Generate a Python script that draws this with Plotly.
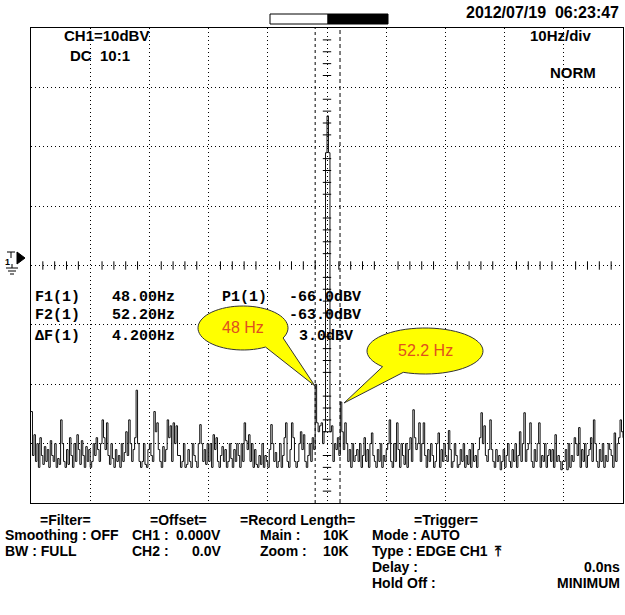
import numpy as np
import plotly.graph_objects as go

# ---------------- data ----------------
freq_step_hz = 0.25
# spectrum level in dBV, one row per 5 Hz (20 bins of 0.25 Hz)
row_00_05 = [-70.6, -78, -74.5, -79, -76, -80, -75, -78, -79.5, -76.5, -79, -77, -80, -75.5, -78, -79, -76, -80, -78.5, -79.5]
row_05_10 = [-72, -76, -79, -80, -77, -79.5, -75, -78, -80, -76, -79, -74.5, -77, -79.5, -75.5, -78, -80, -76.5, -79, -77]
row_10_15 = [-80, -79, -76, -78, -75, -77, -79, -76, -72, -75, -77, -72.5, -78, -79.5, -76, -78.5, -80, -77, -79, -78]
row_15_20 = [-80, -76, -79, -77.5, -74, -78, -72, -76, -79, -77, -75, -67, -76, -79, -80, -79, -76, -79.5, -80, -77]
row_20_25 = [-76, -78, -79, -70.6, -74, -72.5, -77, -79, -80, -76.5, -79, -77, -72, -75, -73, -79, -72.5, -76, -73, -78]
row_25_30 = [-78, -80, -79, -76, -80, -79.5, -77, -79, -80, -76, -78, -79, -80, -76, -72.8, -76, -79, -77, -79.5, -76]
row_30_35 = [-79, -76, -80, -74.5, -77, -75, -79, -80, -78, -76.5, -79, -77, -80, -79, -76, -78.5, -80, -77, -79, -76]
row_35_40 = [-78, -80, -76, -79, -72.5, -75.5, -77, -74.5, -79, -76, -80, -77, -79.5, -80, -78, -79.5, -76, -80, -78, -79]
row_40_45 = [-80, -77, -72.8, -76, -79, -77.5, -80, -79, -76, -80, -78, -75, -72.5, -79, -80, -77, -72.5, -75, -79, -80]
row_45_50 = [-79, -76, -74, -77, -74.5, -79, -80, -78, -76, -79, -75, -77, -66, -72.5, -74, -73, -72.5, -76, -74, -27]
row_50_55 = [-20.8, -27, -74, -73, -79, -76, -77, -75, -78, -69, -74, -77, -72.5, -76, -79, -77, -80, -76, -79, -78]
row_55_60 = [-77, -79, -76, -80, -78, -75, -79, -77, -80, -76, -74.2, -78, -79, -80, -77, -79, -76, -80, -78, -79]
row_60_65 = [-77, -76, -72, -79, -80, -76, -79, -72.5, -77, -80, -76, -78, -79.5, -76, -80, -77, -75, -79, -70.3, -75]
row_65_70 = [-77, -76, -72.5, -79, -76, -72.5, -78, -80, -77, -79, -76, -78, -80, -79, -76, -74.2, -80, -77, -79, -76]
row_70_75 = [-78, -79, -73.8, -77, -80, -79, -76, -78, -80, -79.5, -77, -79, -76, -80, -78, -79.5, -77, -80, -76, -79]
row_75_80 = [-78, -80, -77, -75, -70.8, -76, -73, -78, -79, -77, -72, -77, -79, -80, -77, -79, -78, -80.4, -79, -77]
row_80_85 = [-80, -78, -76, -79, -80, -77, -79, -76, -80, -78, -74, -79, -76, -70.8, -79, -77, -76, -72.5, -79, -80]
row_85_90 = [-77, -79, -76, -72.5, -80, -78, -79, -76, -80, -78, -77, -79, -77, -80, -74.5, -79, -78, -79, -80.4, -79]
row_90_95 = [-79, -77, -80.4, -76, -80, -78, -79, -75, -76, -78, -73.3, -80, -77, -79, -76, -80, -78, -77, -75, -79]
row_95_100 = [-72, -76, -79, -80, -77, -79, -76, -80, -78, -79, -76, -77, -78, -80, -74.2, -79, -76, -75, -72, -74]
last_bin = [-75]

spectrum_dbv = (row_00_05 + row_05_10 + row_10_15 + row_15_20 + row_20_25 + row_25_30
                + row_30_35 + row_35_40 + row_40_45 + row_45_50 + row_50_55 + row_55_60
                + row_60_65 + row_65_70 + row_70_75 + row_75_80 + row_80_85 + row_85_90
                + row_90_95 + row_95_100 + last_bin)
freqs_hz = [i * freq_step_hz for i in range(len(spectrum_dbv))]

cursor_f1_hz = 48.0
cursor_f2_hz = 52.2

readout_rows = [
    ("F1(1)", "48.00Hz", "P1(1)", "-66.0dBV"),
    ("F2(1)", "52.20Hz", "", "-63.0dBV"),
    ("ΔF(1)", "4.200Hz", "", "3.0dBV"),
]

# ---------------- geometry helpers ----------------
W, H = 625, 615
L, R, T, B = 31, 623, 28, 503
X0, X1 = 0.0, 100.0
Y0, Y1 = -86.0, -6.0


def xp(px):
    return (px - L) / (R - L)


def yp(py):
    return (B - py) / (B - T)


def x_data(px):
    return X0 + (px - L) / (R - L) * (X1 - X0)


def y_data(py):
    return Y0 + (B - py) / (B - T) * (Y1 - Y0)


fig = go.Figure()

fig.add_trace(go.Scatter(
    x=freqs_hz, y=spectrum_dbv, mode="lines",
    line=dict(color="#111111", width=1, shape="hv"),
    hoverinfo="skip", showlegend=False,
))

# centre graticule minor ticks
tick_x = [X0 + 2 * k for k in range(1, 50) if (2 * k) % 10 != 0]
tick_y = [Y0 + 2 * k for k in range(1, 40) if (2 * k) % 10 != 0]
fig.add_trace(go.Scatter(
    x=tick_x, y=[-46] * len(tick_x), mode="markers",
    marker=dict(symbol="line-ns", size=6, line=dict(color="black", width=1)),
    hoverinfo="skip", showlegend=False,
))
fig.add_trace(go.Scatter(
    x=[50] * len(tick_y), y=tick_y, mode="markers",
    marker=dict(symbol="line-ew", size=6, line=dict(color="black", width=1)),
    hoverinfo="skip", showlegend=False,
))

shapes = []
# cursors
shapes.append(dict(type="line", xref="x", yref="paper", x0=cursor_f1_hz, x1=cursor_f1_hz,
                   y0=0, y1=1, line=dict(color="black", width=1, dash="dot")))
shapes.append(dict(type="line", xref="x", yref="paper", x0=cursor_f2_hz, x1=cursor_f2_hz,
                   y0=0, y1=1, line=dict(color="black", width=1, dash="4px,3px")))

# top memory bar
shapes.append(dict(type="rect", xref="paper", yref="paper", x0=xp(270), x1=xp(328),
                   y0=yp(24), y1=yp(14), fillcolor="white", line=dict(color="black", width=1)))
shapes.append(dict(type="rect", xref="paper", yref="paper", x0=xp(328), x1=xp(388),
                   y0=yp(24), y1=yp(14), fillcolor="black", line=dict(color="black", width=1)))


def callout(cx, cy, rx, ry, a_start, a_end, tip):
    pts = []
    for a in np.linspace(a_start, a_end, 60):
        t = np.radians(a)
        pts.append((cx + rx * np.cos(t), cy + ry * np.sin(t)))
    pts.append(tip)
    path = "M " + " L ".join(f"{x_data(px):.4f},{y_data(py):.4f}" for px, py in pts) + " Z"
    return dict(type="path", xref="x", yref="y", path=path, fillcolor="#FFFF00",
                line=dict(color="#333333", width=1), layer="above")


shapes.append(callout(243, 328, 45, 22, 60, 387, (315, 386)))
shapes.append(callout(425, 351, 58, 23, 137, 472, (344, 403)))

# channel / ground marker on the left
shapes.append(dict(type="path", xref="paper", yref="paper",
                   path=f"M {xp(17)},{yp(252)} L {xp(25)},{yp(258)} L {xp(17)},{yp(264)} Z",
                   fillcolor="black", line=dict(color="black", width=1)))
shapes.append(dict(type="line", xref="paper", yref="paper", x0=xp(7), x1=xp(15),
                   y0=yp(252), y1=yp(252), line=dict(color="black", width=1)))
shapes.append(dict(type="line", xref="paper", yref="paper", x0=xp(11), x1=xp(11),
                   y0=yp(252), y1=yp(258), line=dict(color="black", width=1)))
for (a, b, yy) in [(6, 18, 268), (8, 16, 271), (10, 14, 274)]:
    shapes.append(dict(type="line", xref="paper", yref="paper", x0=xp(a), x1=xp(b),
                       y0=yp(yy), y1=yp(yy), line=dict(color="black", width=1)))
shapes.append(dict(type="line", xref="paper", yref="paper", x0=xp(12), x1=xp(12),
                   y0=yp(264), y1=yp(268), line=dict(color="black", width=1)))

annotations = []

SANS = "Liberation Sans Narrow, Liberation Sans, Arial"
MONO = "Liberation Mono, DejaVu Sans Mono, monospace"


def txt(x, y, s, anchor="left", size=14, family=SANS, color="black", bold=True):
    annotations.append(dict(
        x=xp(x), y=yp(y), xref="paper", yref="paper", text=(f"<b>{s}</b>" if bold else s),
        showarrow=False, xanchor=anchor, yanchor="middle",
        font=dict(family=family, size=size, color=color),
    ))


txt(621, 13, "2012/07/19&nbsp;&nbsp;06:23:47", "right", 16)
txt(62, 36, "CH1=10dBV", "left", 15)
txt(68, 55, "DC&nbsp;&nbsp;10:1", "left", 15)
txt(594, 36, "10Hz/div", "right", 15)
txt(598, 73, "NORM", "right", 15)

row_y = [297, 316, 336]
for (a, b, c, d), yy in zip(readout_rows, row_y):
    txt(33, yy, a, "left", 15, MONO)
    txt(110, yy, b, "left", 15, MONO)
    if c:
        txt(220, yy, c, "left", 15, MONO)
    if d.startswith("-"):
        txt(287, yy, d, "left", 15, MONO)
    else:
        txt(297, yy, d, "left", 15, MONO)

txt(3, 262, "1", "left", 9)

# callout labels
txt(243, 327, "48 Hz", "center", 16, "Liberation Sans, Arial", "#E0501E", bold=False)
txt(425, 351, "52.2 Hz", "center", 16, "Liberation Sans, Arial", "#E0501E", bold=False)

# bottom status block
txt(65, 520, "=Filter=", "center", 14)
txt(3, 535, "Smoothing : OFF", "left", 14)
txt(3, 551, "BW : FULL", "left", 14)
txt(178, 520, "=Offset=", "center", 14)
txt(130, 535, "CH1 :", "left", 14)
txt(223, 535, "0.000V", "right", 14)
txt(130, 551, "CH2 :", "left", 14)
txt(223, 551, "0.0V", "right", 14)
txt(297, 520, "=Record Length=", "center", 14)
txt(258, 535, "Main :", "left", 14)
txt(351, 535, "10K", "right", 14)
txt(258, 551, "Zoom :", "left", 14)
txt(351, 551, "10K", "right", 14)
txt(446, 520, "=Trigger=", "center", 14)
txt(370, 535, "Mode : AUTO", "left", 14)
txt(370, 551, "Type : EDGE CH1&nbsp;&nbsp;⤒", "left", 14)
txt(370, 567, "Delay :", "left", 14)
txt(622, 567, "0.0ns", "right", 14)
txt(370, 583, "Hold Off :", "left", 14)
txt(622, 583, "MINIMUM", "right", 14)

fig.update_layout(
    width=W, height=H,
    margin=dict(l=L, r=W - R, t=T, b=H - B, pad=0),
    paper_bgcolor="white", plot_bgcolor="white",
    shapes=shapes, annotations=annotations,
    showlegend=False,
)
fig.update_xaxes(range=[X0, X1], tick0=0, dtick=10, showgrid=True, gridcolor="black",
                 gridwidth=1, griddash="1px,3px", zeroline=False, showticklabels=False,
                 ticks="", showline=True, linecolor="black", linewidth=1, mirror=True,
                 fixedrange=True)
fig.update_yaxes(range=[Y0, Y1], tick0=Y0, dtick=10, showgrid=True, gridcolor="black",
                 gridwidth=1, griddash="1px,3px", zeroline=False, showticklabels=False,
                 ticks="", showline=True, linecolor="black", linewidth=1, mirror=True,
                 fixedrange=True)

fig.write_html("out.html")
